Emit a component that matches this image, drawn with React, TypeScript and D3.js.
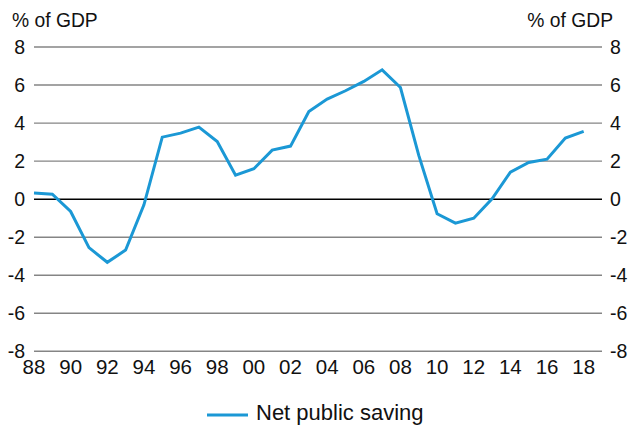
import React from "react";
import * as d3 from "d3";

const years: number[] = [
  1988, 1989, 1990, 1991, 1992, 1993, 1994, 1995, 1996, 1997, 1998, 1999, 2000,
  2001, 2002, 2003, 2004, 2005, 2006, 2007, 2008, 2009, 2010, 2011, 2012, 2013,
  2014, 2015, 2016, 2017, 2018,
];
const netPublicSaving: number[] = [
  0.32, 0.26, -0.65, -2.55, -3.32, -2.68, -0.3, 3.26, 3.47, 3.79, 3.03, 1.26, 1.6,
  2.58, 2.79, 4.61, 5.26, 5.7, 6.19, 6.8, 5.87, 2.3, -0.77, -1.26, -1.0, 0.02,
  1.42, 1.93, 2.1, 3.21, 3.56,
];
const yTicks: number[] = [-8, -6, -4, -2, 0, 2, 4, 6, 8];
const xTickYears: number[] = [
  1988, 1990, 1992, 1994, 1996, 1998, 2000, 2002, 2004, 2006, 2008, 2010, 2012,
  2014, 2016, 2018,
];
const unitLabel = "% of GDP";
const seriesName = "Net public saving";

const W = 633;
const H = 428;
const FONT = "'Liberation Sans', Arial, Helvetica, sans-serif";
const LINE_COLOR = "#1b98d5";

export default function App() {
  const x = d3.scaleLinear().domain([1988, 2019]).range([34, 602]);
  const y = d3.scaleLinear().domain([-8, 8]).range([351.3, 47]);
  const line = d3
    .line<number>()
    .x((_, i) => x(years[i]))
    .y((d) => y(d));

  return (
    <svg
      width={W}
      height={H}
      style={{ position: "absolute", left: 0, top: 0, background: "#fff" }}
      fontFamily={FONT}
    >
      <rect x={0} y={0} width={W} height={H} fill="#fff" />
      {yTicks.map((t) => (
        <line
          key={"g" + t}
          x1={x(1988)}
          x2={x(2019)}
          y1={y(t)}
          y2={y(t)}
          stroke={t === 0 ? "#000" : "#858585"}
          strokeWidth={t === 0 ? 1.5 : 1.4}
        />
      ))}
      {yTicks.map((t) => (
        <text
          key={"l" + t}
          x={25}
          y={y(t) + 6.5}
          textAnchor="end"
          fontSize={19.5}
          fill="#111"
        >
          {t}
        </text>
      ))}
      {yTicks.map((t) => (
        <text
          key={"r" + t}
          x={610}
          y={y(t) + 6.5}
          textAnchor="start"
          fontSize={19.5}
          fill="#111"
        >
          {t}
        </text>
      ))}
      {xTickYears.map((yr) => (
        <text
          key={"x" + yr}
          x={x(yr)}
          y={374}
          textAnchor="middle"
          fontSize={20.5}
          fill="#111"
        >
          {String(yr % 100).padStart(2, "0")}
        </text>
      ))}
      <text x={12} y={27} fontSize={19.3} fill="#111">
        {unitLabel}
      </text>
      <text x={613} y={27} fontSize={19.3} fill="#111" textAnchor="end">
        {unitLabel}
      </text>
      <path
        d={line(netPublicSaving) || ""}
        fill="none"
        stroke={LINE_COLOR}
        strokeWidth={3}
        strokeLinejoin="miter"
      />
      <line x1={207} x2={248} y1={415} y2={415} stroke={LINE_COLOR} strokeWidth={3} />
      <text x={256} y={420} fontSize={22} fill="#111">
        {seriesName}
      </text>
    </svg>
  );
}
